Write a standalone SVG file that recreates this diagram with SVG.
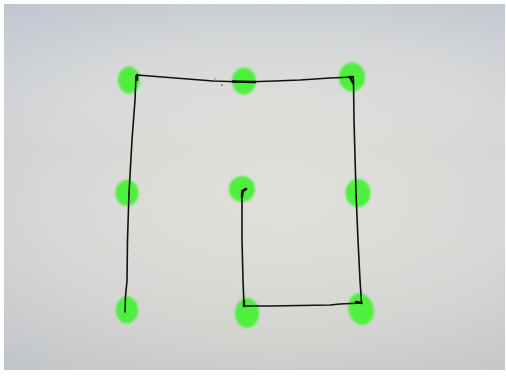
<svg xmlns="http://www.w3.org/2000/svg" width="506" height="380" viewBox="0 0 506 380">
<defs>
<radialGradient id="bg" cx="0.55" cy="0.5" r="0.75">
<stop offset="0" stop-color="#e0dfda"/>
<stop offset="0.6" stop-color="#d6d7d5"/>
<stop offset="1" stop-color="#c3c7cf"/>
</radialGradient>
<linearGradient id="shade" x1="0" y1="0" x2="0" y2="1">
<stop offset="0" stop-color="#b8c0d0" stop-opacity="0.35"/>
<stop offset="0.4" stop-color="#ffffff" stop-opacity="0"/>
<stop offset="1" stop-color="#b8b8b0" stop-opacity="0.25"/>
</linearGradient>
<filter id="soft" x="-30%" y="-30%" width="160%" height="160%"><feGaussianBlur stdDeviation="0.8"/></filter>
<style>
.dot{fill:#4ff03e;filter:url(#soft)}
.ink{fill:none;stroke:#111;stroke-width:1.6;stroke-linecap:round;stroke-linejoin:round}
</style>
</defs>
<rect width="506" height="380" fill="#ffffff"/>
<rect x="4" y="4" width="501" height="366" fill="url(#bg)"/>
<rect x="4" y="4" width="501" height="366" fill="url(#shade)"/>
<g id="dots">
<ellipse class="dot" cx="129" cy="80" rx="11" ry="13.5"/>
<ellipse class="dot" cx="244" cy="81" rx="12" ry="13.5"/>
<ellipse class="dot" cx="352" cy="77" rx="13" ry="14.5"/>
<ellipse class="dot" cx="127" cy="193" rx="11.5" ry="13"/>
<ellipse class="dot" cx="242" cy="189" rx="13" ry="13"/>
<ellipse class="dot" cx="358" cy="193" rx="12.5" ry="14"/>
<ellipse class="dot" cx="127" cy="310" rx="11" ry="13.5"/>
<ellipse class="dot" cx="247" cy="313" rx="12" ry="15"/>
<ellipse class="dot" cx="361" cy="309" rx="12.5" ry="16" transform="rotate(-15 361 309)"/>
</g>
<g id="connectors">
<path class="ink" d="M125,312 L125.5,296 L127,281 L127.5,240 L129,193 L132,140 L135,100 L136,76 L137,75 L175,78 L213,81 L244,82 L275,81 L300,80 L330,78 L353,77 L353.5,80 L354,120 L356,193 L358,240 L360,280 L361.5,303 L340,304 L330,305 L300,305.5 L270,306 L244,306 L243,280 L242,240 L242,197 L243,191 L246,189"/>
<path d="M137,75 L137,80 M353,77 L350,77 L353,83 M361.5,303 L356,302 M244,306 L244,301" fill="none" stroke="#111" stroke-width="2.5" stroke-linecap="round"/>
<path d="M232,81.5 L256,82" fill="none" stroke="#111" stroke-width="2.4"/>
<path d="M242,197 L242.5,191 L246,189" fill="none" stroke="#111" stroke-width="2.6" stroke-linecap="round"/>
<circle cx="222" cy="85" r="0.8" fill="#333"/>
<path d="M215,78 L215,82" stroke="#555" stroke-width="0.6"/>
</g>
</svg>
